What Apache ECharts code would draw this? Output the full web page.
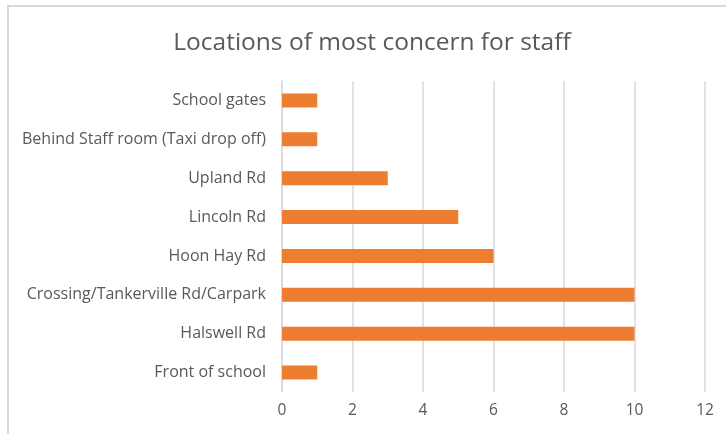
<!DOCTYPE html>
<html>
<head>
<meta charset="utf-8">
<script src="https://cdn.jsdelivr.net/npm/echarts@6/dist/echarts.min.js"></script>
<style>
  html, body { margin: 0; padding: 0; background: #fff; }
  #chart { width: 726px; height: 434px; }
</style>
</head>
<body>
<div id="chart"></div>
<script>
// Locations listed bottom-to-top (category axis starts at the bottom)
const locations = [
  'Front of school',
  'Halswell Rd',
  'Crossing/Tankerville Rd/Carpark',
  'Hoon Hay Rd',
  'Lincoln Rd',
  'Upland Rd',
  'Behind Staff room (Taxi drop off)',
  'School gates'
];
const concernCounts = [1, 10, 10, 6, 5, 3, 1, 1];
const xTicks = [0, 2, 4, 6, 8, 10, 12];

const FONT = '"Open Sans", Lato, sans-serif';
const chart = echarts.init(document.getElementById('chart'));
chart.setOption({
  animation: false,
  backgroundColor: '#ffffff',
  title: {
    text: 'Locations of most concern for staff',
    left: 367,
    textAlign: 'center',
    top: 26,
    textStyle: { fontFamily: FONT, fontSize: 24.5, fontWeight: 'normal', color: '#595959' }
  },
  graphic: [{
    type: 'rect',
    shape: { x: 8, y: 6, width: 760, height: 460 },
    style: { fill: 'none', stroke: '#d9d9d9', lineWidth: 2 },
    silent: true
  }],
  grid: { left: 282, right: 21, top: 81, bottom: 42, containLabel: false },
  xAxis: {
    type: 'value',
    min: xTicks[0],
    max: xTicks[xTicks.length - 1],
    interval: xTicks[1] - xTicks[0],
    axisLine: { show: false },
    axisTick: { show: false },
    axisLabel: { fontFamily: FONT, fontSize: 15.5, color: '#595959', margin: 11 },
    splitLine: { show: true, lineStyle: { color: '#d9d9d9', width: 1.5 } }
  },
  yAxis: {
    type: 'category',
    data: locations,
    axisLine: { show: true, lineStyle: { color: '#d9d9d9', width: 1.5 } },
    axisTick: { show: false },
    axisLabel: { fontFamily: FONT, fontSize: 16, color: '#595959', margin: 16 }
  },
  series: [{
    type: 'bar',
    data: concernCounts,
    barWidth: 14,
    itemStyle: { color: '#ed7d31' }
  }]
});
</script>
</body>
</html>
